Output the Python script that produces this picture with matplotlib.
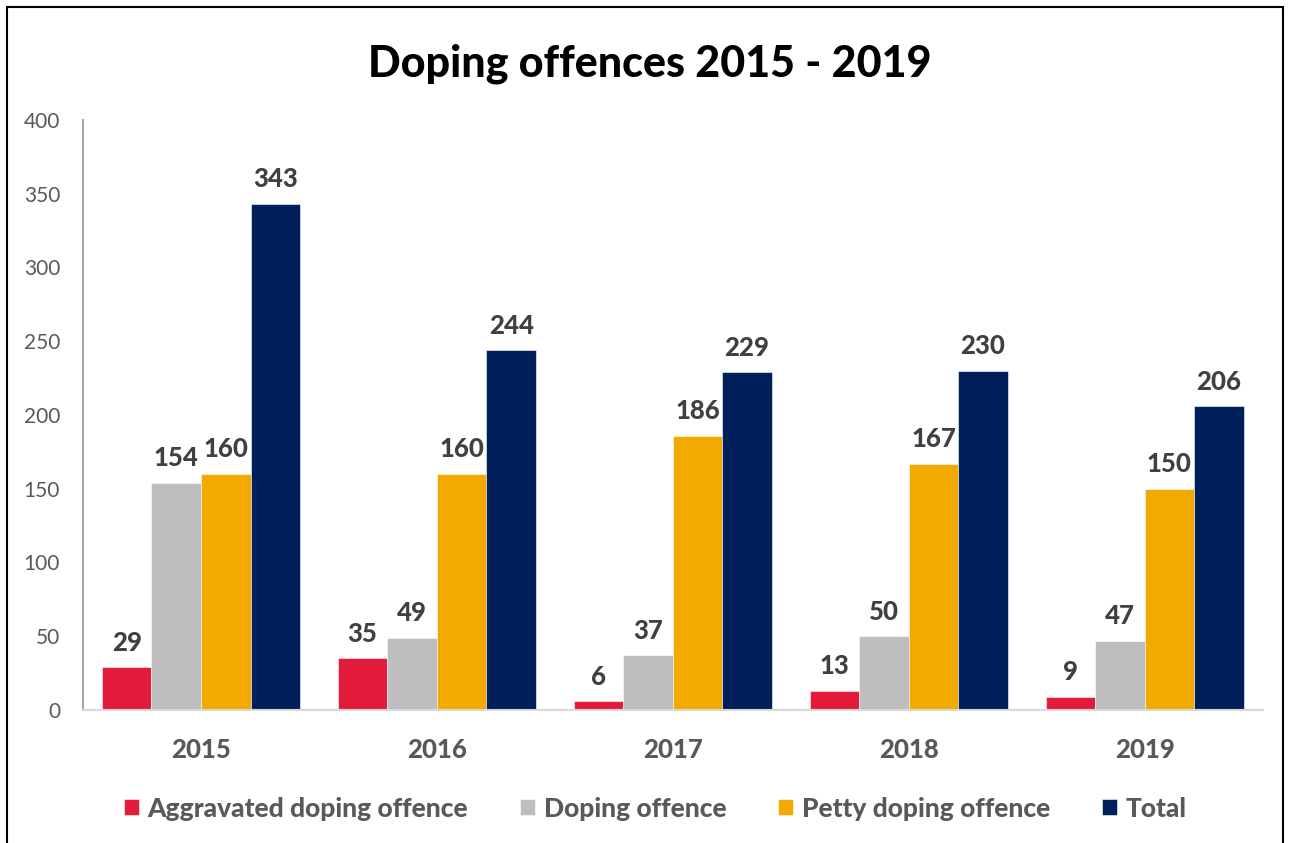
import numpy as np
import matplotlib.pyplot as plt
from matplotlib.patches import Rectangle

years = ['2015', '2016', '2017', '2018', '2019']
aggravated = [29, 35, 6, 13, 9]
doping = [154, 49, 37, 50, 47]
petty = [160, 160, 186, 167, 150]
total = [343, 244, 229, 230, 206]

series = [
    ('Aggravated doping offence', aggravated, '#E41B3A'),
    ('Doping offence', doping, '#BDBEBD'),
    ('Petty doping offence', petty, '#F2A900'),
    ('Total', total, '#00205B'),
]

plt.rcParams['font.family'] = ['Lato', 'DejaVu Sans']

fig = plt.figure(figsize=(12.91, 8.43), dpi=100)
ax = fig.add_axes([0.0643, 0.1578, 0.9137, 0.70])

x = np.arange(len(years))
width = 0.21
offsets = (np.arange(len(series)) - 1.5) * width

for (label, vals, color), off in zip(series, offsets):
    bars = ax.bar(x + off, vals, width, color=color, label=label,
                  edgecolor='white', linewidth=0.4)
    for b, v in zip(bars, vals):
        ax.annotate(str(v), (b.get_x() + b.get_width() / 2, v),
                    xytext=(0, 9), textcoords='offset points',
                    ha='center', va='bottom', fontsize=18.5,
                    fontweight='black', color='#404040')

ax.set_xlim(-0.5, 4.5)
ax.set_ylim(0, 400)
ax.set_yticks(range(0, 401, 50))
ax.set_xticks(x)
ax.set_xticklabels(years, fontsize=18.5, fontweight='black', color='#595959')
ax.tick_params(axis='y', labelsize=15, labelcolor='#595959', length=0, pad=16.5)
ax.tick_params(axis='x', length=0, pad=20)

for s in ['top', 'right']:
    ax.spines[s].set_visible(False)
ax.spines['left'].set_color('#A6A6A6')
ax.spines['left'].set_linewidth(1.5)
ax.spines['bottom'].set_color('#D9D9D9')
ax.spines['bottom'].set_linewidth(1.5)

fig.suptitle('Doping offences 2015 - 2019', x=0.503, y=0.948, fontsize=31,
             fontweight='black', color='black')

leg = ax.legend(loc='center', bbox_to_anchor=(0.485, -0.167), ncol=4,
                frameon=False, handlelength=0.57, handleheight=0.57,
                handletextpad=0.34, columnspacing=1.95,
                prop={'size': 19, 'weight': 'black'})
for t in leg.get_texts():
    t.set_color('#595959')

# outer border of the chart area
fig.patches.append(Rectangle((7 / 1291, -0.05), 1276 / 1291, 1.05 - 7 / 843,
                             transform=fig.transFigure, fill=False,
                             edgecolor='black', linewidth=1.5))

fig.savefig('out.png', dpi=100)
